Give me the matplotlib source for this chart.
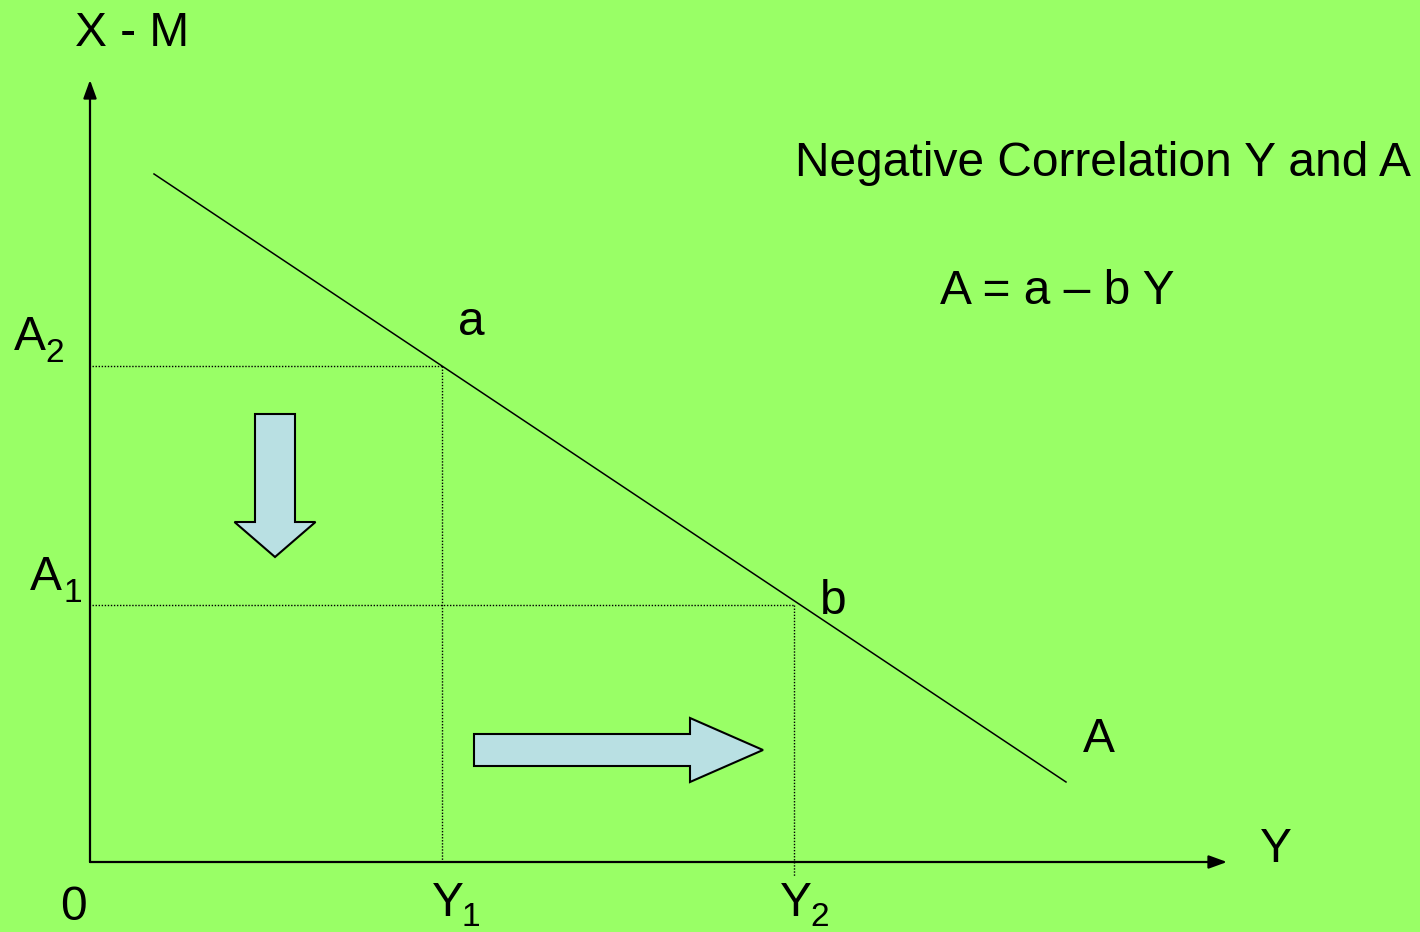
#!/usr/bin/env python3

import matplotlib.pyplot as plt
import matplotlib.patches as mpatches

# Line A = a - b*Y (diagram units, origin at the axis corner)
a_intercept = 730.7
b_slope = 0.6667
line_x = [64, 976]

# Income levels and the matching A levels
y_levels = [352, 704]
a_levels = [496, 257]
y_subs = ['1', '2']
a_subs = ['2', '1']
point_labels = ['a', 'b']

x_axis_end = 1137
y_axis_end = 782

plt.rcParams['font.family'] = ['Liberation Sans', 'DejaVu Sans']

def line_value(x):
    return a_intercept - b_slope * x

def label(ax, x, y, main, sub, sub_dx, sub_dy, fs):
    ax.text(x, y, main, fontsize=fs, va='baseline')
    ax.text(x + sub_dx, y - sub_dy, sub, fontsize=fs * 0.7, va='baseline')

def main():
    bg = '#99ff66'
    fig = plt.figure(figsize=(14.2, 9.32), dpi=100, facecolor=bg)
    ax = fig.add_axes([0, 0, 1, 1])
    ax.set_facecolor(bg)
    ax.set_xlim(-90, 1330)
    ax.set_ylim(-70, 862)
    ax.axis('off')

    # axes with arrow heads
    arrow = dict(arrowstyle='-|>,head_length=1.1,head_width=0.4', lw=1.6,
                 color='black', shrinkA=0, shrinkB=0)
    ax.annotate('', xy=(0, y_axis_end), xytext=(0, 0), arrowprops=arrow)
    ax.annotate('', xy=(x_axis_end, 0), xytext=(0, 0), arrowprops=arrow)

    # the A line
    ax.plot(line_x, [line_value(x) for x in line_x], color='black', lw=1.1)

    # dotted guides
    dot = dict(color='black', lw=1, linestyle=(0, (1, 1.2)))
    for i, (yl, av) in enumerate(zip(y_levels, a_levels)):
        ax.plot([2, yl], [av, av], **dot)
        ax.plot([yl, yl], [av, -14 if i == 1 else 0], **dot)

    # shift arrows
    fill = '#b9e0e3'
    ax.add_patch(mpatches.FancyArrow(185, 448, 0, -143, width=40, head_width=81,
                                     head_length=35, length_includes_head=True,
                                     facecolor=fill, edgecolor='black', lw=1.5))
    ax.add_patch(mpatches.FancyArrow(384, 112, 289, 0, width=32, head_width=64,
                                     head_length=73, length_includes_head=True,
                                     facecolor=fill, edgecolor='black', lw=1.5))

    fs = 34.5
    ax.text(-15, 816, 'X - M', fontsize=fs, va='baseline')
    ax.text(705, 686, 'Negative Correlation Y and A', fontsize=fs, va='baseline')
    ax.text(850, 558, 'A = a \u2013 b Y', fontsize=fs, va='baseline')
    ax.text(368, 527, point_labels[0], fontsize=fs, va='baseline')
    ax.text(730, 248, point_labels[1], fontsize=fs, va='baseline')
    ax.text(993, 110, 'A', fontsize=fs, va='baseline')
    ax.text(1170, 0, 'Y', fontsize=fs, va='baseline')
    ax.text(-30, -58, '0', fontsize=fs, va='baseline')
    label(ax, 342, -54, 'Y', y_subs[0], 30, 10, fs)
    label(ax, 690, -54, 'Y', y_subs[1], 30, 10, fs)
    label(ax, -76, 512, 'A', a_subs[0], 31, 12, fs)
    label(ax, -60, 272, 'A', a_subs[1], 33, 12, fs)

    fig.savefig('out.png', dpi=100, facecolor=bg)

if __name__ == '__main__':
    main()
